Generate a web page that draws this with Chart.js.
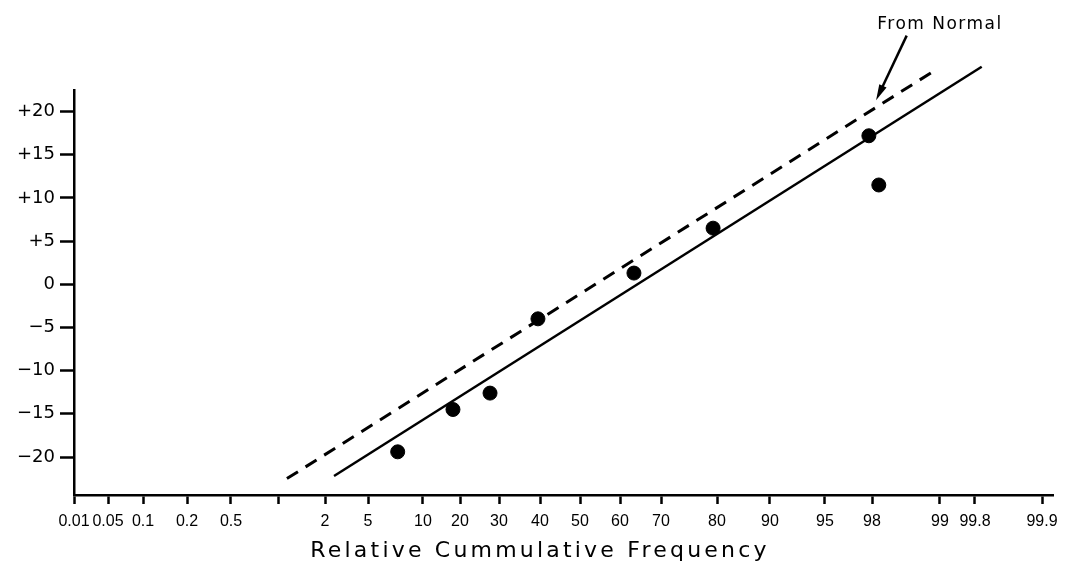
<!DOCTYPE html>
<html>
<meta charset="UTF-8">
<head>
    <title>Relative Cummulative Frequency</title>
    <script src="https://cdn.jsdelivr.net/npm/chart.js"></script>
    <style>
        body { margin: 0; background: #fff; }
        #chartContainer { width: 1066px; height: 570px; }
    </style>
</head>
<body>
<div id="chartContainer">
    <canvas id="chart"></canvas>
</div>

<script>
    // Probability paper: tick probabilities (%), their labels and their ruling along the axis
    const tickProb = [0.01, 0.05, 0.1, 0.2, 0.5, 1, 2, 5, 10, 20, 30, 40, 50, 60, 70, 80, 90, 95, 98, 99, 99.8, 99.9];
    const tickLabels = ['0.01', '0.05', '0.1', '0.2', '0.5', '', '2', '5', '10', '20', '30', '40', '50', '60', '70', '80', '90', '95', '98', '99', '99.8', '99.9'];
    const tickRuling = [0, 3.4, 6.9, 11.3, 15.7, 20.4, 25.1, 29.4, 34.9, 38.6, 42.5, 46.6, 50.6, 54.6, 58.7, 64.3, 69.6, 75.1, 79.8, 86.6, 90.1, 96.8];
    const rulingEnd = 97.9;

    const yTicks = [-20, -15, -10, -5, 0, 5, 10, 15, 20];
    const yLabels = ['\u221220', '\u221215', '\u221210', '\u22125', '0', '+5', '+10', '+15', '+20'];

    const xTitle = 'Relative Cummulative Frequency';

    // Observed points
    const pointProb = [7.7, 18.1, 27.7, 39.5, 63.4, 79.3, 97.8, 98.1];
    const pointValue = [-19.4, -14.5, -12.6, -4.0, 1.3, 6.5, 17.2, 11.5];

    // Fitted line and the line from the normal distribution
    const fitProb = [2.63, 99.81];
    const fitValue = [-22.2, 25.2];
    const normalProb = [1.19, 98.93];
    const normalValue = [-22.5, 24.8];

    // Note with arrow
    const noteText = 'From Normal';
    const noteProb = 99.0;
    const noteValue = 30.1;
    const arrowProb = [98.51, 98.06];
    const arrowValue = [28.8, 21.3];

    // probability -> position on the ruled axis
    function toPos(p) {
        for (let i = 1; i < tickProb.length; i++) {
            if (p <= tickProb[i]) {
                const t = (p - tickProb[i - 1]) / (tickProb[i] - tickProb[i - 1]);
                return tickRuling[i - 1] + t * (tickRuling[i] - tickRuling[i - 1]);
            }
        }
        return tickRuling[tickRuling.length - 1];
    }

    function pairs(xs, ys) {
        return xs.map((p, i) => ({ x: toPos(p), y: ys[i] }));
    }

    // note, arrow and the spaced-out axis title
    const notePlugin = {
        id: 'note',
        afterDraw(chart) {
            const { ctx, scales: { x, y } } = chart;
            const x0 = x.getPixelForValue(toPos(arrowProb[0]));
            const y0 = y.getPixelForValue(arrowValue[0]);
            const x1 = x.getPixelForValue(toPos(arrowProb[1]));
            const y1 = y.getPixelForValue(arrowValue[1]);
            const ang = Math.atan2(y1 - y0, x1 - x0);
            ctx.save();
            ctx.strokeStyle = '#000';
            ctx.fillStyle = '#000';
            ctx.lineWidth = 2.5;
            ctx.beginPath();
            ctx.moveTo(x0, y0);
            ctx.lineTo(x1 - 10 * Math.cos(ang), y1 - 10 * Math.sin(ang));
            ctx.stroke();
            ctx.beginPath();
            ctx.moveTo(x1, y1);
            ctx.lineTo(x1 - 16 * Math.cos(ang) + 4 * Math.sin(ang), y1 - 16 * Math.sin(ang) - 4 * Math.cos(ang));
            ctx.lineTo(x1 - 16 * Math.cos(ang) - 4 * Math.sin(ang), y1 - 16 * Math.sin(ang) + 4 * Math.cos(ang));
            ctx.closePath();
            ctx.fill();

            ctx.textAlign = 'center';
            ctx.textBaseline = 'middle';
            ctx.letterSpacing = '1.5px';
            ctx.font = '17px "DejaVu Sans"';
            ctx.fillText(noteText, x.getPixelForValue(toPos(noteProb)), y.getPixelForValue(noteValue));

            ctx.letterSpacing = '3.2px';
            ctx.font = '22px "DejaVu Sans"';
            ctx.fillText(xTitle, x.getPixelForValue(toPos(40)), chart.height - 19);
            ctx.restore();
        }
    };

    const ctx = document.getElementById('chart').getContext('2d');
    new Chart(ctx, {
        type: 'scatter',
        data: {
            datasets: [
                {
                    label: 'Observed',
                    data: pairs(pointProb, pointValue),
                    backgroundColor: '#000',
                    borderColor: '#000',
                    pointRadius: 7
                },
                {
                    label: 'Fitted',
                    data: pairs(fitProb, fitValue),
                    showLine: true,
                    borderColor: '#000',
                    borderWidth: 2.5,
                    pointRadius: 0,
                    clip: false
                },
                {
                    label: 'From Normal',
                    data: pairs(normalProb, normalValue),
                    showLine: true,
                    borderColor: '#000',
                    borderWidth: 3,
                    borderDash: [13, 9],
                    pointRadius: 0,
                    clip: false
                }
            ]
        },
        options: {
            responsive: true,
            maintainAspectRatio: false,
            animation: false,
            layout: { padding: { top: 90, right: 13, left: 0, bottom: 0 } },
            plugins: {
                legend: { display: false },
                tooltip: { enabled: false }
            },
            scales: {
                x: {
                    type: 'linear',
                    min: 0,
                    max: rulingEnd,
                    afterBuildTicks: scale => { scale.ticks = tickRuling.map(v => ({ value: v })); },
                    afterFit: scale => { scale.height = 75; },
                    ticks: {
                        autoSkip: false,
                        maxRotation: 0,
                        padding: 8,
                        color: '#000',
                        font: { family: 'Liberation Sans', size: 16 },
                        callback: (v, i) => tickLabels[i]
                    },
                    grid: { drawOnChartArea: false, tickLength: 9, tickWidth: 2.5, tickColor: '#000' },
                    border: { color: '#000', width: 2.5 }
                },
                y: {
                    min: -24.4,
                    max: 22.5,
                    afterBuildTicks: scale => { scale.ticks = yTicks.map(v => ({ value: v })); },
                    afterFit: scale => { scale.width = 74; },
                    ticks: {
                        padding: 5,
                        color: '#000',
                        font: { family: 'DejaVu Sans', size: 18 },
                        callback: (v, i) => yLabels[i]
                    },
                    grid: { drawOnChartArea: false, tickLength: 14, tickWidth: 2.5, tickColor: '#000' },
                    border: { color: '#000', width: 2.5 }
                }
            }
        },
        plugins: [notePlugin]
    });
</script>
</body>
</html>
